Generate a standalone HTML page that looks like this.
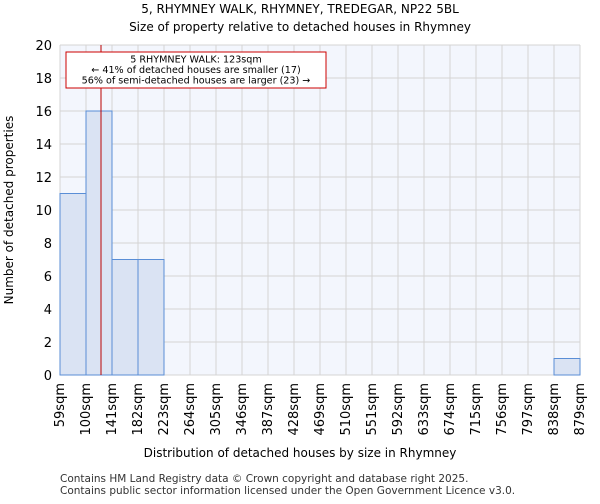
<!DOCTYPE html>
<html><head><meta charset="utf-8"><style>
body{margin:0;background:#fff;font-family:"DejaVu Sans","Liberation Sans",sans-serif}
svg text{font-family:"DejaVu Sans","Liberation Sans",sans-serif}
</style></head><body>
<svg id="c" width="600" height="500" xmlns="http://www.w3.org/2000/svg">
<text x="300" y="13" font-size="12" text-anchor="middle">5, RHYMNEY WALK, RHYMNEY, TREDEGAR, NP22 5BL</text>
<text x="300" y="31" font-size="12" text-anchor="middle">Size of property relative to detached houses in Rhymney</text>
<rect x="60" y="45" width="520" height="330" fill="#f3f6fd"/>
<g id="grid"></g><g id="bars"></g><g id="axes"></g>
<line x1="101" y1="45" x2="101" y2="375" stroke="#b00" stroke-width="1"/>
<rect x="66" y="52" width="260" height="36" fill="#fff" stroke="#c00" stroke-width="1"/>
<text x="196" y="62.5" font-size="9.6" text-anchor="middle">5 RHYMNEY WALK: 123sqm</text>
<text x="196" y="73" font-size="9.6" text-anchor="middle">← 41% of detached houses are smaller (17)</text>
<text x="196" y="83.5" font-size="9.6" text-anchor="middle">56% of semi-detached houses are larger (23) →</text>
<text x="300" y="457" font-size="12" text-anchor="middle">Distribution of detached houses by size in Rhymney</text>
<text transform="translate(13,210) rotate(-90)" font-size="12" text-anchor="middle">Number of detached properties</text>
<text x="60" y="482" font-size="10.5" fill="#333">Contains HM Land Registry data © Crown copyright and database right 2025.</text>
<text x="60" y="494" font-size="10.5" fill="#333">Contains public sector information licensed under the Open Government Licence v3.0.</text>
</svg>
<script>
const categories=["59sqm","100sqm","141sqm","182sqm","223sqm","264sqm","305sqm","346sqm","387sqm","428sqm","469sqm","510sqm","551sqm","592sqm","633sqm","674sqm","715sqm","756sqm","797sqm","838sqm","879sqm"];
const counts=[11,16,7,7,0,0,0,0,0,0,0,0,0,0,0,0,0,0,0,1];
const yTicks=[0,2,4,6,8,10,12,14,16,18,20];
const NS="http://www.w3.org/2000/svg";
const X0=60,X1=580,Y0=375,Y1=45,YMAX=20;
const bw=(X1-X0)/(categories.length-1);
const xs=i=>X0+i*bw, ys=v=>Y0-(v/YMAX)*(Y0-Y1);
function mk(t,a,p){const e=document.createElementNS(NS,t);for(const k in a)e.setAttribute(k,a[k]);p.appendChild(e);return e;}
const g=document.getElementById('grid'),b=document.getElementById('bars'),ax=document.getElementById('axes');
yTicks.forEach(v=>{
 const l=mk('line',{x1:X0,x2:X1,y1:ys(v),y2:ys(v),stroke:'#d4d4d4'},g);
 
 
 const t=mk('text',{x:X0-8,y:ys(v)+5,'font-size':13,'text-anchor':'end'},ax);t.textContent=v;
 
 
});
categories.forEach((c,i)=>{
 const l=mk('line',{x1:xs(i),x2:xs(i),y1:Y1,y2:Y0,stroke:'#d4d4d4'},g);
 
 
 const x=xs(i)+4;
 const t=mk('text',{transform:`translate(${x},${Y0+8}) rotate(-90)`,'font-size':13,'text-anchor':'end'},ax);t.textContent=c;
 
 
});
counts.forEach((v,i)=>{
 if(v<=0)return;
 const r=mk('rect',{x:xs(i),y:ys(v),width:bw,height:Y0-ys(v),fill:'#dae3f3',stroke:'#5a8ed6','stroke-width':1},b);
 
 
});
</script>
</body></html>
